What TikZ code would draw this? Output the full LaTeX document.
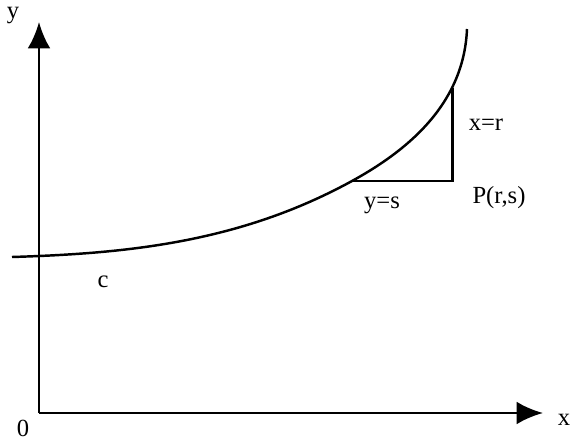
\documentclass[tikz,border=0pt]{standalone}
\usepackage{fontspec}
\setmainfont{Liberation Serif}
\usetikzlibrary{arrows.meta}

\begin{document}
\begin{tikzpicture}[x=0.02cm, y=-0.02cm,
    axis/.style={line width=1.7pt, -{Latex[length=15pt, width=13pt]}},
    curve/.style={line width=1.4pt},
    leg/.style={line width=1.7pt},
    lbl/.style={font=\fontsize{14}{16}\selectfont, inner sep=0pt}]

    \useasboundingbox (0,0) rectangle (571,439);

    % Axes
    \coordinate (O) at (39,413);
    \coordinate (ytip) at (39,22);
    \coordinate (xtip) at (543,413);
    \draw[axis] (O) -- (ytip);
    \draw[axis] (O) -- (xtip);
    \node[lbl] (ylab) at (13,16) {y};
    \node[lbl] (xlab) at (564,420) {x};
    \node[lbl] (olab) at (23,428) {0};

    % Curve c
    \coordinate (cstart) at (12,257);
    \coordinate (left) at (352,181);
    \coordinate (cend) at (467,29);
    \draw[curve] (cstart) .. controls (125,253.5) and (239,243) .. (left)
        .. controls (414,147) and (464,100) .. (cend);
    \node[lbl] (clab) at (103,282) {c};

    % Triangle at P
    \coordinate (P) at (452,181);
    \coordinate (top) at (452,88);
    \draw[leg, line join=miter] (left) -- (P) -- (top);
    \node[lbl] (xr) at (486,125) {x=r};
    \node[lbl] (ys) at (382,205) {y=s};
    \node[lbl] (plab) at (499,198) {P(r,s)};
\end{tikzpicture}
\end{document}
